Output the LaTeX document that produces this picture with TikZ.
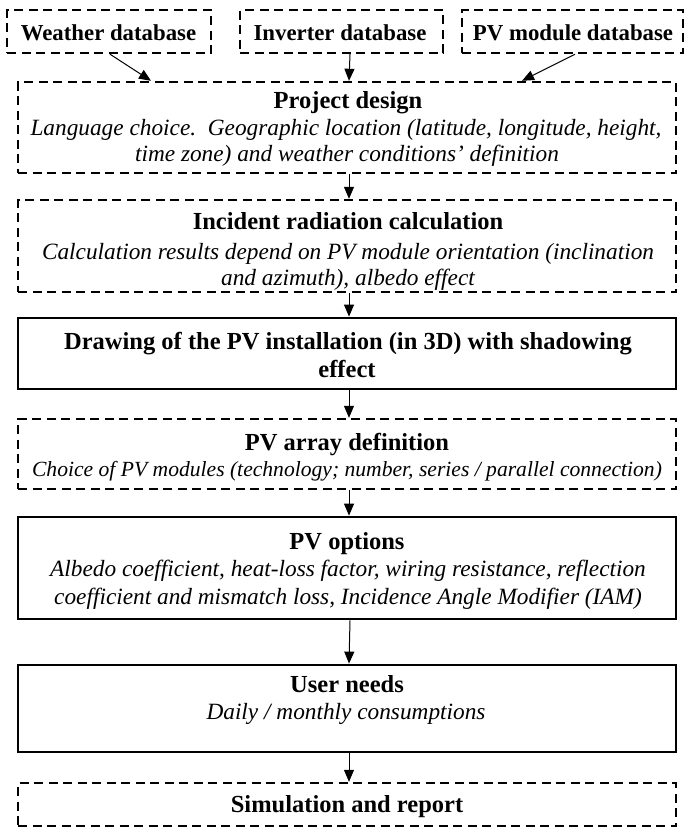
\documentclass[tikz,border=0pt]{standalone}
\usepackage{fontspec}
\setmainfont{Liberation Serif}
\usetikzlibrary{arrows.meta,calc}
\begin{document}
\begin{tikzpicture}[x=1pt,y=-1pt,
  box/.style={draw=black,line width=2.4pt,inner sep=0pt,minimum width=658pt},
  dashbox/.style={box,dash pattern=on 9pt off 5.5pt},
  fullbox/.style={box,line width=2.8pt},
  ttl/.style={anchor=base,inner sep=0pt,font=\fontsize{24.5}{28}\selectfont\bfseries},
  dbl/.style={anchor=base,inner sep=0pt,font=\fontsize{22.8}{27}\selectfont\bfseries},
  itl/.style={anchor=base,inner sep=0pt,font=\fontsize{23.3}{27}\selectfont\itshape},
  arr/.style={line width=1pt,-{Triangle[length=12pt,width=10pt]}}
]
\useasboundingbox (0,0) rectangle (688,827);

% database boxes
\node[dashbox,minimum width=204pt,minimum height=43pt] (wdb) at (109,31.5) {};
\node[dashbox,minimum width=203pt,minimum height=43pt] (idb) at (341.5,31.5) {};
\node[dashbox,minimum width=221pt,minimum height=43pt] (pdb) at (572.5,31.5) {};
\node[dbl] (wdbt) at (108.5,40) {Weather database};
\node[dbl] (idbt) at (340,40) {Inverter database};
\node[dbl] (pdbt) at (573,40) {PV module database};

% main boxes
\node[dashbox,minimum height=91pt] (pd) at (347,127.5) {};
\node[dashbox,minimum height=92pt] (ir) at (347,246) {};
\node[fullbox,minimum height=71pt] (dr) at (347,353.5) {};
\node[dashbox,minimum height=70pt] (pa) at (347,454) {};
\node[fullbox,minimum height=102pt] (po) at (347,568) {};
\node[fullbox,minimum height=87pt] (un) at (347,708.5) {};
\node[dashbox,minimum height=43pt] (sr) at (347,804.5) {};

% texts
\node[ttl] (pdt) at (348,108) {Project design};
\node[itl] (pdl1) at (346,135) {Language choice.\ \ Geographic location (latitude, longitude, height,};
\node[itl] (pdl2) at (347,161) {time zone) and weather conditions’ definition};

\node[ttl] (irt) at (348,229) {Incident radiation calculation};
\node[itl] (irl1) at (348,259) {Calculation results depend on PV module orientation (inclination};
\node[itl] (irl2) at (348,285) {and azimuth), albedo effect};

\node[ttl] (drt1) at (348,349) {Drawing of the PV installation (in 3D) with shadowing};
\node[ttl] (drt2) at (347,377) {effect};

\node[ttl] (pat) at (347,450) {PV array definition};
\node[itl,font=\fontsize{21.6}{26}\selectfont\itshape] (pal) at (347,476) {Choice of PV modules (technology; number, series / parallel connection)};

\node[ttl] (pot) at (347,549) {PV options};
\node[itl] (pol1) at (348,576) {Albedo coefficient, heat-loss factor, wiring resistance, reflection};
\node[itl] (pol2) at (348,604) {coefficient and mismatch loss, Incidence Angle Modifier (IAM)};

\node[ttl] (unt) at (347,692) {User needs};
\node[itl] (unl) at (346,719) {Daily / monthly consumptions};

\node[ttl] (srt) at (347,812) {Simulation and report};

% connectors
\draw[arr] ([xshift=1pt]wdb.south) -- ([xshift=-196pt]pd.north);
\draw[arr] ([xshift=8.5pt]idb.south) -- ([xshift=2pt]pd.north);
\draw[arr] ([xshift=2.5pt]pdb.south) -- ([xshift=175pt]pd.north);
\draw[arr] ([xshift=2pt]pd.south) -- ([xshift=2pt]ir.north);
\draw[arr] ([xshift=2pt]ir.south) -- ([xshift=2pt]dr.north);
\draw[arr] ([xshift=2pt]dr.south) -- ([xshift=2pt]pa.north);
\draw[arr] ([xshift=2pt]pa.south) -- ([xshift=2pt]po.north);
\draw[arr] ([xshift=3pt]po.south) -- ([xshift=2pt]un.north);
\draw[arr] ([xshift=2pt]un.south) -- ([xshift=2pt]sr.north);
\end{tikzpicture}
\end{document}
